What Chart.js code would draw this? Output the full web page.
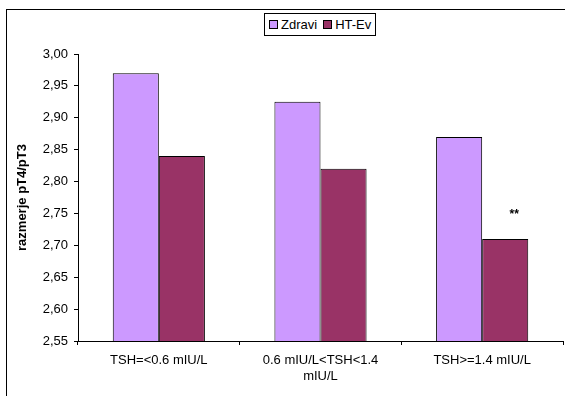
<!DOCTYPE html>
<html>
<head>
<meta charset="utf-8">
<script src="https://cdn.jsdelivr.net/npm/chart.js@4"></script>
<style>
  html, body { margin: 0; padding: 0; background: #fff; }
  #wrap { position: relative; width: 565px; height: 396px; overflow: hidden; }
  #legend {
    position: absolute; left: 264px; top: 13px; height: 21px;
    border: 1px solid #000; background: #fff;
    font: 13px "Liberation Sans", Arial, sans-serif; color: #000;
    display: flex; align-items: center; padding: 0 4px; white-space: nowrap;
  }
  #legend span.box { display: inline-block; width: 7px; height: 7px; border: 1px solid #000; margin-right: 3px; }
  #legend span.item { margin-right: 6px; }
  #legend span.item:last-child { margin-right: 0; }
</style>
</head>
<body>
<div id="wrap">
  <canvas id="chart" width="565" height="396"></canvas>
  <div id="legend"></div>
</div>
<script>
const categories = ['TSH=<0.6 mIU/L', ['0.6 mIU/L<TSH<1.4', 'mIU/L'], 'TSH>=1.4 mIU/L'];
const zdravi = [2.97, 2.925, 2.87];
const htEv = [2.84, 2.82, 2.71];
const seriesNames = ['Zdravi', 'HT-Ev'];
const seriesColors = ['#CC99FF', '#993366'];
const yMin = 2.55, yMax = 3.00, yStep = 0.05;
const marks = ['', '', '**'];   // significance marks over HT-Ev

const FONT = '"Liberation Sans", Arial, sans-serif';

// legend
const legendEl = document.getElementById('legend');
seriesNames.forEach(function (name, i) {
  legendEl.innerHTML += '<span class="item"><span class="box" style="background:' + seriesColors[i] + '"></span>' + name + '</span>';
});

const frame = {
  id: 'frame',
  beforeDraw: function (chart) {
    const ctx = chart.ctx;
    ctx.save();
    ctx.strokeStyle = '#000';
    ctx.lineWidth = 1;
    ctx.strokeRect(6.5, 9.5, 600, 420);
    ctx.restore();
  }
};

const starMarks = {
  id: 'starMarks',
  afterDatasetsDraw: function (chart) {
    const ctx = chart.ctx;
    const meta = chart.getDatasetMeta(1);
    ctx.save();
    ctx.fillStyle = '#000';
    ctx.font = 'bold 12px ' + FONT;
    ctx.textAlign = 'center';
    ctx.textBaseline = 'middle';
    meta.data.forEach(function (bar, i) {
      if (marks[i]) ctx.fillText(marks[i], bar.x + 9, bar.y - 24);
    });
    ctx.restore();
  }
};

new Chart(document.getElementById('chart'), {
  type: 'bar',
  data: {
    labels: categories,
    datasets: [{
      label: seriesNames[0],
      data: zdravi,
      backgroundColor: seriesColors[0],
      borderColor: '#000',
      borderWidth: 1,
      borderSkipped: 'bottom'
    }, {
      label: seriesNames[1],
      data: htEv,
      backgroundColor: seriesColors[1],
      borderColor: '#000',
      borderWidth: 1,
      borderSkipped: 'bottom'
    }]
  },
  options: {
    responsive: false,
    animation: false,
    events: [],
    layout: { padding: { top: 54, right: 2, left: 0, bottom: 0 } },
    datasets: { bar: { categoryPercentage: 0.57, barPercentage: 1 } },
    plugins: { legend: { display: false }, tooltip: { enabled: false } },
    scales: {
      x: {
        offset: true,
        grid: { offset: true, drawOnChartArea: false, drawTicks: true, tickLength: 4, color: '#000' },
        border: { color: '#000', width: 1 },
        ticks: { color: '#000', font: { family: FONT, size: 13 }, padding: 8, maxRotation: 0, autoSkip: false },
        afterFit: function (scale) { scale.height = 55; }
      },
      y: {
        min: yMin,
        max: yMax,
        grid: { drawOnChartArea: false, drawTicks: true, tickLength: 4, color: '#000' },
        border: { color: '#000', width: 1 },
        ticks: {
          stepSize: yStep,
          color: '#000',
          padding: 6,
          font: { family: FONT, size: 13 },
          callback: function (v) { return v.toFixed(2).replace('.', ','); }
        },
        title: {
          display: true,
          text: 'razmerje pT4/pT3',
          color: '#000',
          font: { family: FONT, size: 13, weight: 'bold' },
          padding: { top: 15, bottom: 0 }
        },
        afterFit: function (scale) { scale.width = 78; }
      }
    }
  },
  plugins: [frame, starMarks]
});
</script>
</body>
</html>
